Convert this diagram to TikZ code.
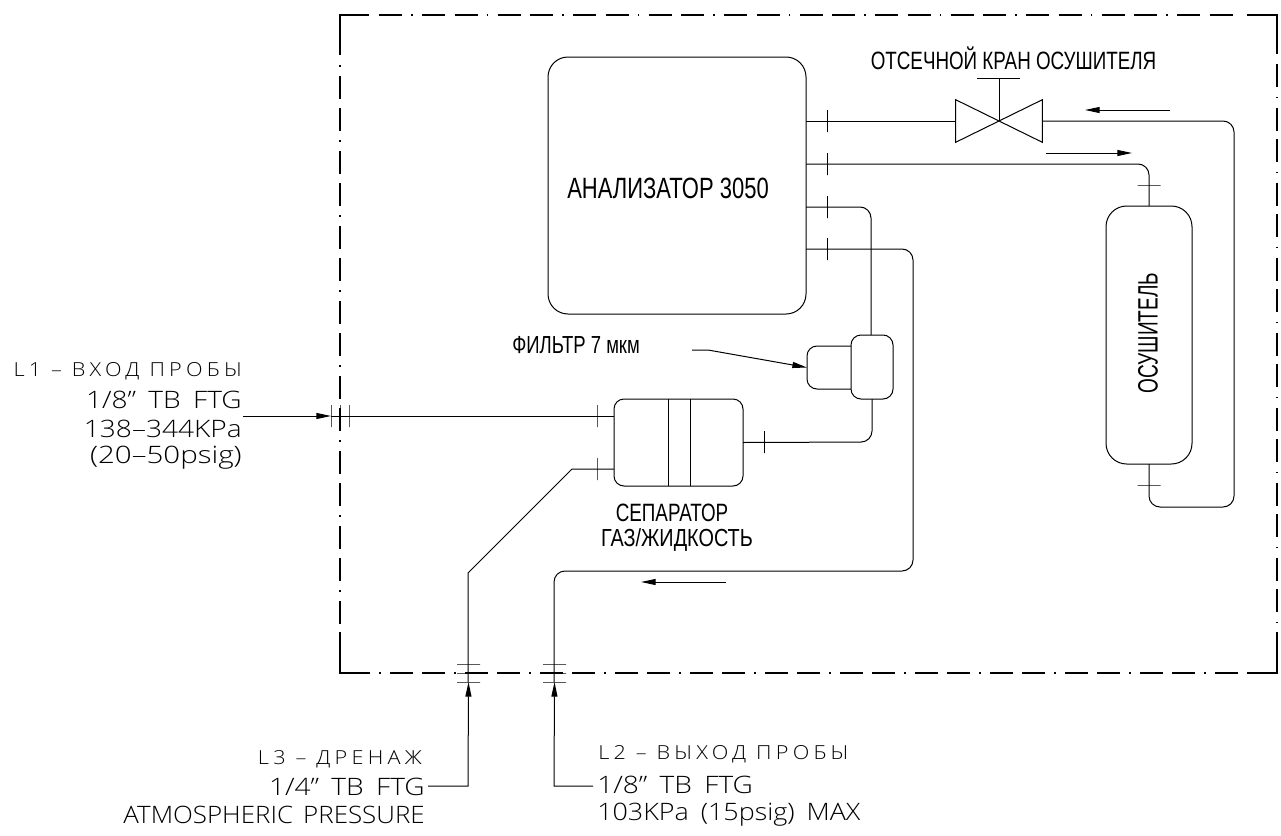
\documentclass[tikz,border=0pt]{standalone}
\usepackage{fontspec}
\usepackage{tikz}
\usetikzlibrary{arrows.meta}
\setmainfont{Liberation Sans}
\newfontfamily\narrowfont[FakeStretch=0.75]{Liberation Sans}
\newfontfamily\narrowtight[FakeStretch=0.68]{Liberation Sans}
\newfontfamily\narrowwide[FakeStretch=0.805]{Liberation Sans}
\newfontfamily\cadfont[FakeStretch=1.17,WordSpace=1.7]{Open Sans Light}
\newfontfamily\cadbroad[FakeStretch=1.23]{Open Sans Light}
\newfontfamily\cadmid[FakeStretch=1.12,WordSpace=1.7]{Open Sans Light}
\newfontfamily\cadtight[FakeStretch=1.08,WordSpace=1.5]{Open Sans Light}
\newfontfamily\cadwide[FakeStretch=1.12,LetterSpace=22]{Open Sans Light}
\def\px{0.75pt}
\tikzstyle{pipe} = [line width=0.75pt, rounded corners=8.25pt]
\tikzstyle{flow} = [line width=0.75pt, -{Triangle[length=11pt,width=4.5pt]}]
\tikzstyle{frameline} = [line width=1.5pt]
\tikzstyle{unit} = [draw, line width=0.75pt, rectangle, inner sep=0pt, outer sep=0pt]
\tikzstyle{vtick} = [draw, line width=0.75pt, inner sep=0pt, outer sep=0pt, minimum width=0pt, minimum height=22*\px]
\tikzstyle{htick} = [draw, line width=0.75pt, inner sep=0pt, outer sep=0pt, minimum height=0pt, minimum width=23*\px]
\tikzstyle{title} = [inner sep=0pt, font=\narrowfont\fontsize{22pt}{24pt}\selectfont]
\tikzstyle{caption} = [inner sep=0pt, font=\narrowfont\fontsize{18.8pt}{20pt}\selectfont]
\tikzstyle{port} = [inner sep=0pt, font=\cadfont\fontsize{18pt}{20pt}\selectfont]
\tikzstyle{line} = [inner sep=0pt, font=\cadwide\fontsize{14.5pt}{16pt}\selectfont]

\begin{document}
\begin{tikzpicture}[x=\px, y=-\px]
    \useasboundingbox (0,0) rectangle (1281,835);
    % frame: solid corners, then the dashed runs between them
    \draw[frameline] (340,55) -- (340,15) -- (369,15);
    \draw[frameline] (1247,15) -- (1277,15) -- (1277,54);
    \draw[frameline] (1277,632) -- (1277,673) -- (1247,673);
    \draw[frameline] (370,673) -- (340,673) -- (340,632);
    \draw[frameline, dash pattern=on 23*\px off 9*\px on 1.5*\px off 9.5*\px on 23*\px off 9.5*\px] (379,15) -- (1238.5,15);
    \draw[frameline, dash pattern=on 23*\px off 9.5*\px on 1.5*\px off 9.5*\px on 23*\px off 8.5*\px] (1277,64) -- (1277,623.5);
    \draw[frameline, dash pattern=on 1.5*\px off 9.5*\px on 23*\px off 9*\px on 23*\px off 9*\px] (379,673) -- (1238,673);
    \draw[frameline, dash pattern=on 1.5*\px off 9.5*\px on 23*\px off 9*\px on 23*\px off 9*\px] (340,65) -- (340,624);

    \node[unit, rounded corners=15pt, minimum width=258*\px, minimum height=257*\px] (ana) at (677,185.5) {};
    \node[title] at (668,188.5) {АНАЛИЗАТОР 3050};
    \node[unit, rounded corners=15.5pt, minimum width=86*\px, minimum height=258*\px] (dry) at (1149,335) {};
    \node[title, rotate=90, font=\narrowtight\fontsize{21pt}{23pt}\selectfont] at (1148,333) {ОСУШИТЕЛЬ};
    \node[unit, rounded corners=7.5pt, minimum width=129*\px, minimum height=87*\px] (sep) at (678.5,442.5) {};
    \draw[line width=0.75pt] (668,399) -- (668,486);
    \draw[line width=0.75pt] (690,399) -- (690,486);
    \node[unit, rounded corners=7.5pt, minimum width=54*\px, minimum height=43*\px] (fltb) at (834,367.5) {};
    \node[unit, fill=white, rounded corners=7.5pt, minimum width=42*\px, minimum height=64*\px] (flt) at (872,367) {};

    % valve
    \node[inner sep=0pt, minimum width=86*\px, minimum height=42*\px] (vlv) at (999,121) {};
    \draw[line width=0.75pt] (vlv.south west) -- (vlv.north east) -- (vlv.south east) -- (vlv.north west) -- cycle;
    \coordinate (stem) at (999,78);
    \draw[line width=0.75pt] (vlv.center) -- (stem);
    \draw[line width=0.75pt] (977,78) -- (1020,78);

    % pipes
    \coordinate (a2) at (806,164);
    \coordinate (a3) at (806,207);
    \coordinate (a4) at (806,249);
    \draw[pipe] (ana.east |- vlv) -- (vlv.west);
    \draw[pipe] (vlv.east) -- (1234,121) -- (1234,507) -- (1149,507) -- (dry.south);
    \draw[pipe] (a2) -- (1149,164) -- (dry.north);
    \draw[pipe] (a3) -- (871,207) -- (871,335);
    \draw[pipe] (872,399) -- (872,442) -- (sep.east);
    \draw[pipe] (a4) -- (913,249) -- (913,571) -- (554,571) -- (554,682);
    \coordinate (d1) at (572,469);
    \coordinate (d2) at (468,573);
    \draw[line width=0.75pt] (sep.west |- d1) -- (d1) -- (d2) -- (468,682);
    \coordinate (in) at (243,416);
    \draw[line width=0.75pt] (331,416) -- (614,416);

    % ticks
    \node[vtick] (t1) at (827,121) {};
    \node[vtick] (t2) at (827,164) {};
    \node[vtick] (t3) at (827,207) {};
    \node[vtick] (t4) at (827,249) {};
    \node[vtick] (t5) at (764,442) {};
    \node[vtick] (t6) at (597,416) {};
    \node[vtick] (t7) at (597,469) {};
    \node[vtick] (t8) at (331,416) {};
    \node[vtick] (t9) at (340,416) {};
    \node[vtick] (t10) at (349,416) {};
    \node[htick] (t11) at (1149,185) {};
    \node[htick] (t12) at (1149,485) {};
    \node[htick] (t13) at (468.5,664) {};
    \node[htick] (t14) at (468.5,673) {};
    \node[htick] (t15) at (468.5,682) {};
    \node[htick] (t16) at (554.5,664) {};
    \node[htick] (t17) at (554.5,673) {};
    \node[htick] (t18) at (554.5,682) {};

    % arrows
    \draw[flow] (1170,110) -- (1085,110);
    \draw[flow] (1046,153) -- (1132,153);
    \draw[flow] (726,582) -- (641,582);
    \draw[flow] (in) -- (t8.center);
    \draw[flow] (692,350) -- (708,350) -- (fltb.west);
    \draw[flow] (593,786) -- (554,786) -- (t18.center);
    \draw[flow] (428,786) -- (468,786) -- (t15.center);

    % labels
    \node[caption] at (1013.5,58) {ОТСЕЧНОЙ КРАН ОСУШИТЕЛЯ};
    \node[caption, font=\narrowfont\fontsize{18.5pt}{20pt}\selectfont, anchor=west] at (512,345) {ФИЛЬТР 7 мкм};
    \node[caption] at (672,513) {СЕПАРАТОР};
    \node[caption, font=\narrowwide\fontsize{18.5pt}{20pt}\selectfont] at (677,540) {ГАЗ/ЖИДКОСТЬ};

    \node[line, anchor=east] at (242,371) {L1 – ВХОД ПРОБЫ};
    \node[port, anchor=east] at (242,400) {1/8” TB FTG};
    \node[port, anchor=east] at (242,429) {138–344KPa};
    \node[port, font=\cadbroad\fontsize{18pt}{20pt}\selectfont, anchor=east] at (242,458) {(20–50psig)};
    \node[line, anchor=east] at (422,759) {L3 – ДРЕНАЖ};
    \node[port, anchor=east] at (425,787) {1/4” TB FTG};
    \node[port, font=\cadtight\fontsize{18pt}{20pt}\selectfont, anchor=east] at (425,815) {ATMOSPHERIC PRESSURE};
    \node[line, anchor=west] at (598,754) {L2 – ВЫХОД ПРОБЫ};
    \node[port, anchor=west] at (597,785) {1/8” TB FTG};
    \node[port, font=\cadmid\fontsize{18pt}{20pt}\selectfont, anchor=west] at (597,815) {103KPa (15psig) MAX};
\end{tikzpicture}
\end{document}
